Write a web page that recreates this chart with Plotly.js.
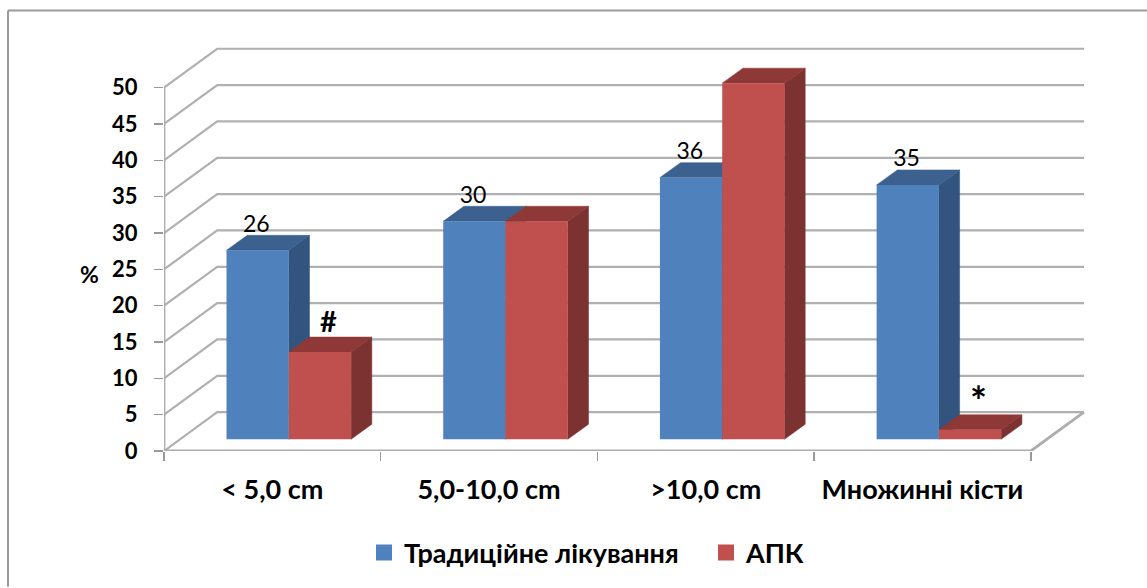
<!DOCTYPE html>
<html>
<head>
<meta charset="utf-8">
<script src="https://cdn.plot.ly/plotly-3.0.1.min.js"></script>
<style>html,body{margin:0;padding:0;background:#fff}</style>
</head>
<body>
<div id="chart"></div>
<script>
// Share of patients by cyst size, two treatment groups
const categories = ['< 5,0 cm', '5,0-10,0 cm', '>10,0 cm', 'Множинні кісти'];
const traditional = [26, 30, 36, 35];
const apk = [12, 30, 49, 1.3];
const traditionalLabels = ['26', '30', '36', '35'];
const apkMarks = ['#', '', '', '*'];
const yTicks = [0, 5, 10, 15, 20, 25, 30, 35, 40, 45, 50];
const seriesNames = ['Традиційне лікування', 'АПК'];

// Pseudo-3D projection, in axis units
const DEPTH_X = 0.2455, DEPTH_Y = 5.35;     // wall depth
const BAR_DX = 0.0955, BAR_DY = 2.06;       // bar depth
const BAR_BASE = 1.62;                      // bars stand on the floor, away from the front edge
const BAR_W = 0.2875, BAR_START = 0.2885;   // bar width and left inset in each category
const PX_PER_UNIT = 7.285, PX_PER_CAT = 216.7;

const FONT = 'Lato, "Open Sans", sans-serif';
const GRID = '#b0b0b0';
const BLUE = '#4f81bd', BLUE_TOP = '#3c618f', BLUE_SIDE = '#32547e';
const RED = '#c0504d', RED_TOP = '#8e3937', RED_SIDE = '#7c3230';

const W = 1147, H = 588, L = 164, R = 62, T = 47, B = 136;
const plotW = W - L - R, plotH = H - T - B;
const xRange = [0, plotW / PX_PER_CAT];
const yRange = [0, plotH / PX_PER_UNIT];

function segments(list) {
  const x = [], y = [];
  list.forEach(pts => { pts.forEach(p => { x.push(p[0]); y.push(p[1]); }); x.push(null); y.push(null); });
  return {x, y};
}
function lineTrace(seg, color, width) {
  return {type: 'scatter', mode: 'lines', x: seg.x, y: seg.y, cliponaxis: false,
          line: {color, width}, hoverinfo: 'skip', showlegend: false};
}
function faceTrace(seg, color) {
  return {type: 'scatter', mode: 'lines', x: seg.x, y: seg.y, fill: 'toself', fillcolor: color,
          cliponaxis: false, line: {color, width: 0.5}, hoverinfo: 'skip', showlegend: false};
}
function barLeft(i, s) { return i + BAR_START + s * BAR_W; }

function topFaces(vals, s) {
  return segments(vals.map((v, i) => {
    const x0 = barLeft(i, s), x1 = x0 + BAR_W, y = v + BAR_BASE;
    return [[x0, y], [x0 + BAR_DX, y + BAR_DY], [x1 + BAR_DX, y + BAR_DY], [x1, y], [x0, y]];
  }));
}
function sideFaces(vals, s) {
  return segments(vals.map((v, i) => {
    const x = barLeft(i, s) + BAR_W, y = v + BAR_BASE;
    return [[x, y], [x + BAR_DX, y + BAR_DY], [x + BAR_DX, BAR_BASE + BAR_DY], [x, BAR_BASE], [x, y]];
  }));
}

// Walls and floor
const nCat = categories.length;
const wallGrid = segments(yTicks.map(t => [[0, t], [DEPTH_X, t + DEPTH_Y], [nCat + DEPTH_X, t + DEPTH_Y]]));
const frontAxes = segments([[[0, yTicks[yTicks.length - 1]], [0, 0], [nCat, 0], [nCat + DEPTH_X, DEPTH_Y]]]);

const traces = [
  lineTrace(wallGrid, GRID, 2.2),
  lineTrace(frontAxes, '#adadad', 2.8),
  faceTrace(sideFaces(traditional, 0), BLUE_SIDE),
  faceTrace(topFaces(traditional, 0), BLUE_TOP),
  faceTrace(sideFaces(apk, 1), RED_SIDE),
  faceTrace(topFaces(apk, 1), RED_TOP),
  // Front faces live on the overlaid subplot so they cover the faces behind them
  {type: 'bar', name: seriesNames[0], x: traditional.map((_, i) => barLeft(i, 0) + BAR_W / 2), y: traditional,
   base: traditional.map(() => BAR_BASE), width: BAR_W, marker: {color: BLUE}, xaxis: 'x2', yaxis: 'y2',
   hoverinfo: 'y', showlegend: false},
  {type: 'bar', name: seriesNames[1], x: apk.map((_, i) => barLeft(i, 1) + BAR_W / 2), y: apk,
   base: apk.map(() => BAR_BASE), width: BAR_W, marker: {color: RED}, xaxis: 'x2', yaxis: 'y2',
   hoverinfo: 'y', showlegend: false},
  // Value labels above the traditional-treatment bars
  {type: 'scatter', mode: 'text', x: traditional.map((_, i) => barLeft(i, 0) + BAR_W / 2 - 0.006),
   y: traditional.map(v => v + BAR_BASE + 24.5 / PX_PER_UNIT), text: traditionalLabels, textposition: 'middle center',
   textfont: {family: FONT, size: 23, color: '#000'}, xaxis: 'x2', yaxis: 'y2', cliponaxis: false,
   hoverinfo: 'skip', showlegend: false},
  // Significance marks above the АПК bars
  {type: 'scatter', mode: 'text', x: apk.map((_, i) => barLeft(i, 1) + BAR_W / 2 + 8.5 / PX_PER_CAT),
   y: apk.map((v, i) => v + BAR_BASE + (apkMarks[i] === '*' ? 24 : 27) / PX_PER_UNIT), text: apkMarks,
   textposition: 'middle center',
   textfont: {family: FONT, size: apkMarks.map(m => (m === '*' ? 40 : 29)), color: '#000', weight: 700},
   xaxis: 'x2', yaxis: 'y2', cliponaxis: false, hoverinfo: 'skip', showlegend: false},
  // Legend keys
  {type: 'scatter', mode: 'markers', name: seriesNames[0], x: [null], y: [null],
   marker: {symbol: 'square', size: 16, color: BLUE}, hoverinfo: 'skip'},
  {type: 'scatter', mode: 'markers', name: seriesNames[1], x: [null], y: [null],
   marker: {symbol: 'square', size: 16, color: RED}, hoverinfo: 'skip'}
];

const layout = {
  width: W, height: H, autosize: false,
  margin: {l: L, r: R, t: T, b: B, pad: 0},
  paper_bgcolor: '#fff', plot_bgcolor: 'rgba(0,0,0,0)',
  font: {family: FONT, color: '#000'},
  barmode: 'overlay',
  xaxis: {
    range: xRange, showgrid: false, zeroline: false, showline: false,
    tickmode: 'array', tickvals: categories.map((_, i) => i + 0.5), ticktext: categories,
    ticks: '', ticklabelstandoff: 20,
    tickfont: {family: FONT, size: 27, weight: 700, color: '#000'},
    minor: {tick0: 0, dtick: 1, ticks: 'outside', ticklen: 9, tickwidth: 1.5, tickcolor: '#999', showgrid: false}
  },
  yaxis: {
    range: yRange, showgrid: false, zeroline: false, showline: false,
    tickmode: 'array', tickvals: yTicks, ticks: 'outside', ticklen: 9, tickwidth: 1.5, tickcolor: '#999',
    ticklabelstandoff: 12,
    tickfont: {family: FONT, size: 22, weight: 700, color: '#000'}
  },
  xaxis2: {range: xRange, overlaying: 'x', visible: false, anchor: 'y2'},
  yaxis2: {range: yRange, overlaying: 'y', visible: false, anchor: 'x2'},
  legend: {
    orientation: 'h', x: (364 - L) / plotW, xanchor: 'left', y: (H - B - 553) / plotH, yanchor: 'middle',
    font: {family: FONT, size: 27, weight: 700, color: '#000'}, itemsizing: 'trace',
    entrywidth: 297, entrywidthmode: 'pixels',
    bgcolor: 'rgba(0,0,0,0)'
  },
  annotations: [{
    text: '%', xref: 'paper', yref: 'paper', x: (89 - L) / plotW, y: (H - B - 275) / plotH,
    showarrow: false, xanchor: 'center', yanchor: 'middle',
    font: {family: FONT, size: 23, weight: 700, color: '#000'}
  }],
  // Page frame: left and top rules running off the page edges
  shapes: [
    {type: 'line', xref: 'paper', yref: 'paper', layer: 'below',
     x0: (8 - L) / plotW, x1: (8 - L) / plotW, y0: (H - B - H) / plotH, y1: (H - B - 10.5) / plotH,
     line: {color: '#9a9a9a', width: 2}},
    {type: 'line', xref: 'paper', yref: 'paper', layer: 'below',
     x0: (8 - L) / plotW, x1: (W - L) / plotW, y0: (H - B - 10.5) / plotH, y1: (H - B - 10.5) / plotH,
     line: {color: '#9a9a9a', width: 2}}
  ]
};

Plotly.newPlot('chart', traces, layout, {displayModeBar: false, staticPlot: true});
</script>
</body>
</html>
